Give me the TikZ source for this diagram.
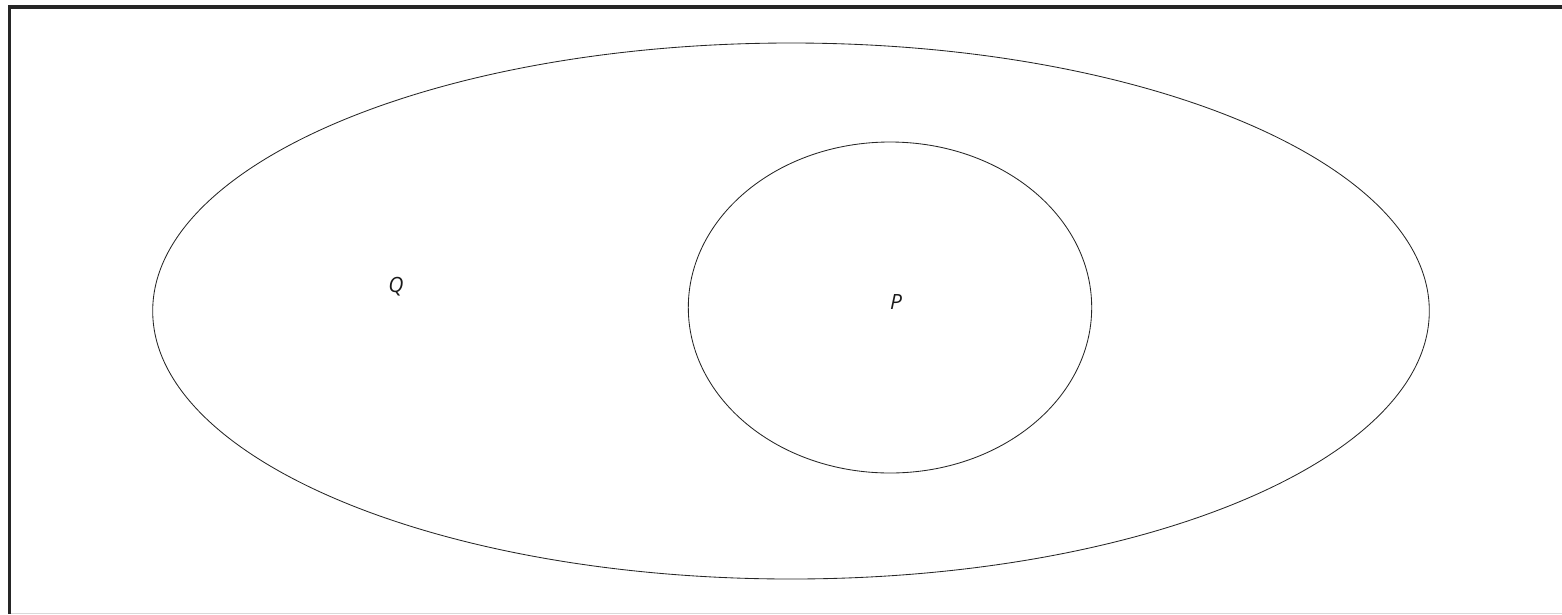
\documentclass[tikz,border=0pt]{standalone}
\usepackage{fontspec}
\setmainfont{Open Sans}
\usetikzlibrary{shapes.geometric}
\begin{document}
\begin{tikzpicture}[x=1pt,y=-1pt,
  setline/.style={draw=black!85, line width=0.85pt, ellipse, inner sep=0pt},
  setlabel/.style={font=\fontsize{21}{25}\selectfont\itshape, text=black!90, inner sep=0pt},
  frameline/.style={draw=black!85, line width=3.5pt}]
\useasboundingbox (0,0) rectangle (1562,614);
\node[setline, minimum width=1276.6pt, minimum height=536pt] (Q) at (791,311) {};
\node[setline, minimum width=403.4pt, minimum height=331pt] (P) at (890,307.5) {};
\node[setlabel] (Qlabel) at (396,287) {Q};
\node[setlabel] (Plabel) at (896,302) {P};
\draw[frameline] (9.3,614) -- (9.3,7) -- (1562,7);
\draw[black!15, line width=1pt] (11,613.5) -- (1562,613.5);
\end{tikzpicture}
\end{document}
